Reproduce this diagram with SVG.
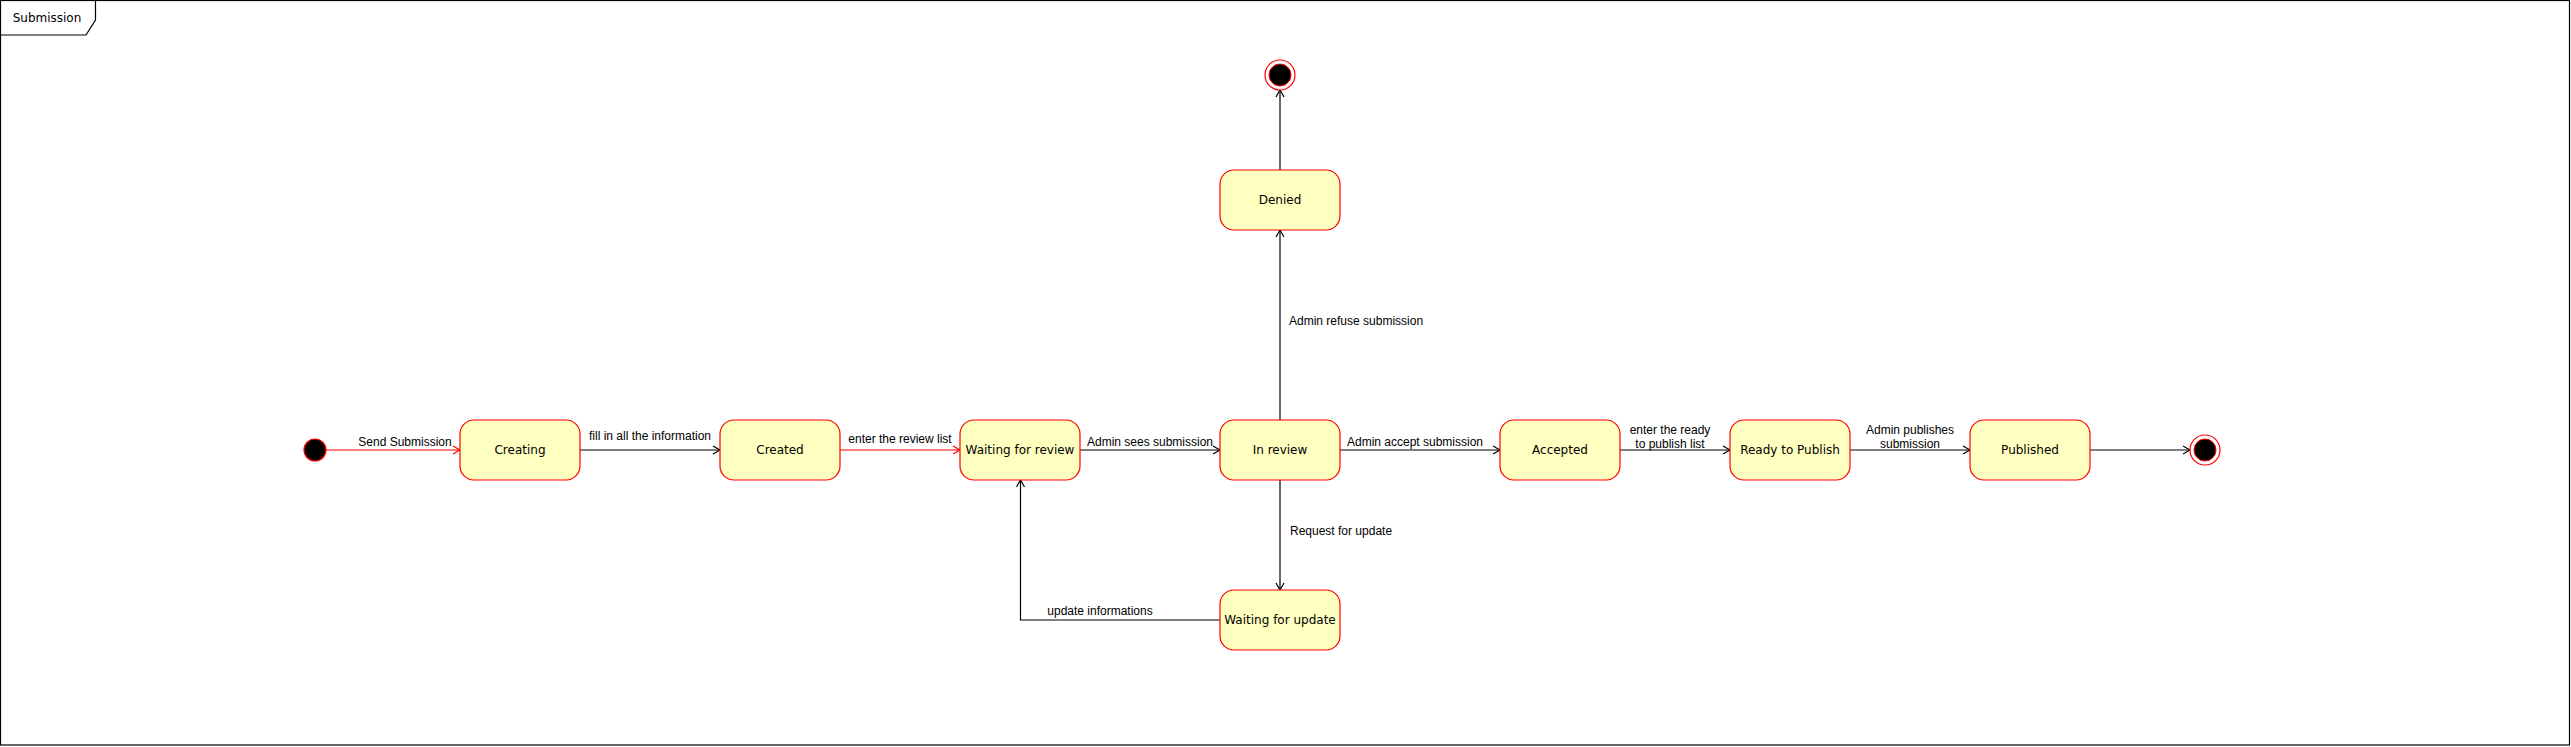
<svg xmlns="http://www.w3.org/2000/svg" width="2571" height="747" viewBox="0 0 2571 747">
<style>
.state rect{fill:#FFFFC0;stroke:#FF0000;stroke-width:1.2}
.state text{font-family:"DejaVu Sans",Verdana,sans-serif;font-size:12px;fill:#000;text-anchor:middle}
.lbl{font-family:"Liberation Sans",Arial,sans-serif;font-size:12px;fill:#000}
.mid{text-anchor:middle}
.edge{fill:none;stroke:#000;stroke-width:1.2}
.edge.red{stroke:#FF0000}
</style>
<defs>
<marker id="ab" markerWidth="10" markerHeight="10" viewBox="0 0 10 10" refX="8" refY="5" orient="auto" markerUnits="userSpaceOnUse">
<path d="M1,1 L8,5 L1,9" fill="none" stroke="#000" stroke-width="1.2"/>
</marker>
<marker id="ar" markerWidth="10" markerHeight="10" viewBox="0 0 10 10" refX="8" refY="5" orient="auto" markerUnits="userSpaceOnUse">
<path d="M1,1 L8,5 L1,9" fill="none" stroke="#FF0000" stroke-width="1.2"/>
</marker>
</defs>
<rect x="0" y="0" width="2571" height="747" fill="#fff"/>
<g id="frame">
<rect x="0.5" y="0.5" width="2569" height="744.5" fill="none" stroke="#000" stroke-width="1.2"/>
<path d="M0.5,35 L86,35 L95.5,20 L95.5,0.5" fill="none" stroke="#000" stroke-width="1.2"/>
<text x="47" y="21.5" style="font-family:'DejaVu Sans',Verdana,sans-serif;font-size:12px;text-anchor:middle">Submission</text>
</g>
<g id="connectors">
<line class="edge red" x1="326" y1="450" x2="460" y2="450" marker-end="url(#ar)"/>
<text class="lbl mid" x="405" y="445.5">Send Submission</text>
<line class="edge" x1="580" y1="450" x2="720" y2="450" marker-end="url(#ab)"/>
<text class="lbl mid" x="650" y="440">fill in all the information</text>
<line class="edge red" x1="840" y1="450" x2="960" y2="450" marker-end="url(#ar)"/>
<text class="lbl mid" x="900" y="443">enter the review list</text>
<line class="edge" x1="1080" y1="450" x2="1220" y2="450" marker-end="url(#ab)"/>
<text class="lbl mid" x="1150" y="445.5">Admin sees submission</text>
<line class="edge" x1="1340" y1="450" x2="1500" y2="450" marker-end="url(#ab)"/>
<text class="lbl mid" x="1415" y="445.5">Admin accept submission</text>
<line class="edge" x1="1620" y1="450" x2="1730" y2="450" marker-end="url(#ab)"/>
<text class="lbl mid" x="1670" y="433.5">enter the ready</text>
<text class="lbl mid" x="1670" y="447.5">to publish list</text>
<line class="edge" x1="1850" y1="450" x2="1970" y2="450" marker-end="url(#ab)"/>
<text class="lbl mid" x="1910" y="433.5">Admin publishes</text>
<text class="lbl mid" x="1910" y="447.5">submission</text>
<line class="edge" x1="2090" y1="450" x2="2190" y2="450" marker-end="url(#ab)"/>
<line class="edge" x1="1280" y1="420" x2="1280" y2="230" marker-end="url(#ab)"/>
<text class="lbl" x="1289" y="325">Admin refuse submission</text>
<line class="edge" x1="1280" y1="170" x2="1280" y2="90" marker-end="url(#ab)"/>
<line class="edge" x1="1280" y1="480" x2="1280" y2="590" marker-end="url(#ab)"/>
<text class="lbl" x="1290" y="535">Request for update</text>
<polyline class="edge" points="1220,620 1020.5,620 1020.5,480" marker-end="url(#ab)"/>
<text class="lbl mid" x="1100" y="615">update informations</text>
</g>
<g id="initial">
<circle cx="315" cy="450" r="11" fill="#000" stroke="#FF0000" stroke-width="1.2"/>
</g>
<g id="creating" class="state"><rect x="460" y="420" width="120" height="60" rx="14"/><text x="520" y="454">Creating</text></g>
<g id="created" class="state"><rect x="720" y="420" width="120" height="60" rx="14"/><text x="780" y="454">Created</text></g>
<g id="waiting-review" class="state"><rect x="960" y="420" width="120" height="60" rx="14"/><text x="1020" y="454">Waiting for review</text></g>
<g id="in-review" class="state"><rect x="1220" y="420" width="120" height="60" rx="14"/><text x="1280" y="454">In review</text></g>
<g id="accepted" class="state"><rect x="1500" y="420" width="120" height="60" rx="14"/><text x="1560" y="454">Accepted</text></g>
<g id="ready" class="state"><rect x="1730" y="420" width="120" height="60" rx="14"/><text x="1790" y="454">Ready to Publish</text></g>
<g id="published" class="state"><rect x="1970" y="420" width="120" height="60" rx="14"/><text x="2030" y="454">Published</text></g>
<g id="denied" class="state"><rect x="1220" y="170" width="120" height="60" rx="14"/><text x="1280" y="204">Denied</text></g>
<g id="waiting-update" class="state"><rect x="1220" y="590" width="120" height="60" rx="14"/><text x="1280" y="624">Waiting for update</text></g>
<g id="final-right">
<circle cx="2205" cy="450" r="15" fill="#fff" stroke="#FF0000" stroke-width="1.2"/>
<circle cx="2205" cy="450" r="11" fill="#000" stroke="#FF0000" stroke-width="1"/>
</g>
<g id="final-top">
<circle cx="1280" cy="75" r="15" fill="#fff" stroke="#FF0000" stroke-width="1.2"/>
<circle cx="1280" cy="75" r="11" fill="#000" stroke="#FF0000" stroke-width="1"/>
</g>
</svg>
